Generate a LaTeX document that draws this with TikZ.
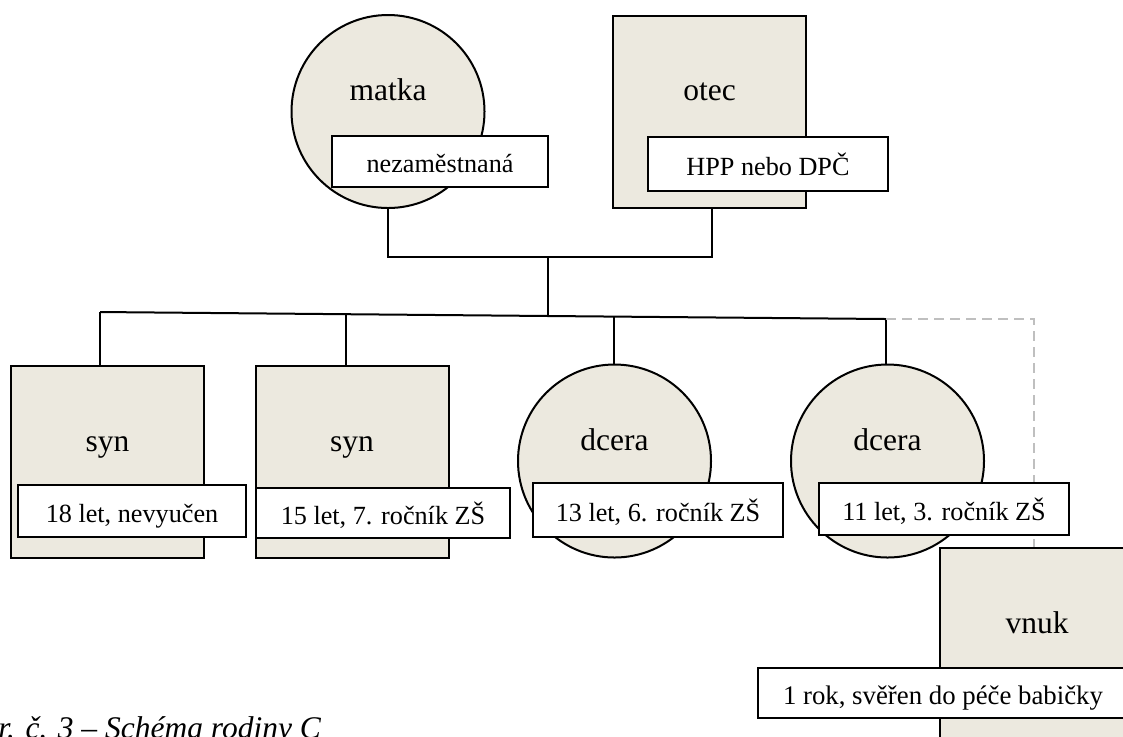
\documentclass[tikz,border=0pt]{standalone}
\usepackage{fontspec}
\setmainfont{Liberation Serif}
\usetikzlibrary{calc}
\definecolor{beige}{RGB}{236,233,223}
\definecolor{dashgray}{RGB}{191,191,191}
\tikzset{
  fem/.style={circle, draw=black, line width=1pt, fill=beige, minimum size=96.5pt, inner sep=0pt},
  male/.style={rectangle, draw=black, line width=1pt, fill=beige, minimum width=96.5pt, minimum height=96pt, inner sep=0pt},
  info/.style={rectangle, draw=black, line width=0.7pt, fill=white, inner sep=0pt, font=\fontsize{13.1}{15}\selectfont, text height=12pt, text depth=1pt},
  nametext/.style={anchor=base, inner sep=0pt, font=\fontsize{15.75}{18}\selectfont},
  link/.style={draw=black, line width=1pt},
  adopt/.style={draw=dashgray, line width=1pt, dash pattern=on 5pt off 3pt},
}
\begin{document}
\begin{tikzpicture}[x=0.5pt,y=-0.5pt]
\useasboundingbox (0,0) rectangle (1123,736);
\clip (0,0) rectangle (1123,736);
% person shapes
\node[fem] (matka) at (388,111.5) {};
\node[male] (otec) at (709.5,112) {};
\node[male] (syn1) at (107.5,462) {};
\node[male] (syn2) at (352,462) {};
\node[fem] (dcera1) at (614.5,461) {};
\node[fem] (dcera2) at (887.5,461) {};
\node[male, minimum width=97pt] (vnuk) at (1037,644) {};
% connectors
\coordinate (pj) at (548,257);
\coordinate (sM) at (548,316);
\coordinate (sL) at (100,312);
\coordinate (sR) at (886,319);
\coordinate (s2) at (346,314);
\coordinate (s3) at (614,317);
\coordinate (vk) at (1034,319);
\draw[link] (matka.south) |- (pj) -| ([xshift=1pt]otec.south);
\draw[link] (pj) -- (sM);
\draw[link] (sL) -- (sR);
\draw[link] (sL) -- (sL |- syn1.north);
\draw[link] (s2) -- (s2 |- syn2.north);
\draw[link] (s3) -- (s3 |- dcera1.north);
\draw[link] (sR) -- (sR |- dcera2.north);
\draw[adopt] (sR) -- (vk) -- (vk |- vnuk.north);
% names
\node[nametext] (matka-t) at (388,100) {matka};
\node[nametext] (otec-t) at (709.5,100) {otec};
\node[nametext] (syn1-t) at (107.5,451) {syn};
\node[nametext] (syn2-t) at (352,451) {syn};
\node[nametext] (dcera1-t) at (614.5,450) {dcera};
\node[nametext] (dcera2-t) at (887.5,450) {dcera};
\node[nametext] (vnuk-t) at (1037,633) {vnuk};
% info boxes
\node[info, minimum width=108pt, minimum height=25.5pt] (matka-i) at (440,161.5) {nezaměstnaná};
\node[info, minimum width=120pt, minimum height=27pt] (otec-i) at (768,164) {HPP nebo DPČ};
\node[info, minimum width=114pt, minimum height=26pt] (syn1-i) at (132,511) {18 let, nevyučen};
\node[info, minimum width=127pt, minimum height=25pt] (syn2-i) at (383,513) {15 let, 7. ročník ZŠ};
\node[info, minimum width=125pt, minimum height=27pt] (dcera1-i) at (658,510) {13 let, 6. ročník ZŠ};
\node[info, minimum width=125pt, minimum height=26pt] (dcera2-i) at (944,509) {11 let, 3. ročník ZŠ};
\node[info, minimum width=185pt, minimum height=25pt, font=\fontsize{13.4}{15}\selectfont] (vnuk-i) at (943,693) {1 rok, svěřen do péče babičky};
% caption
\node[anchor=base west, inner sep=0pt, font=\itshape\fontsize{15.75}{18}\selectfont] (caption) at (-2,738) {r. č. 3 – Schéma rodiny C};
\end{tikzpicture}
\end{document}
